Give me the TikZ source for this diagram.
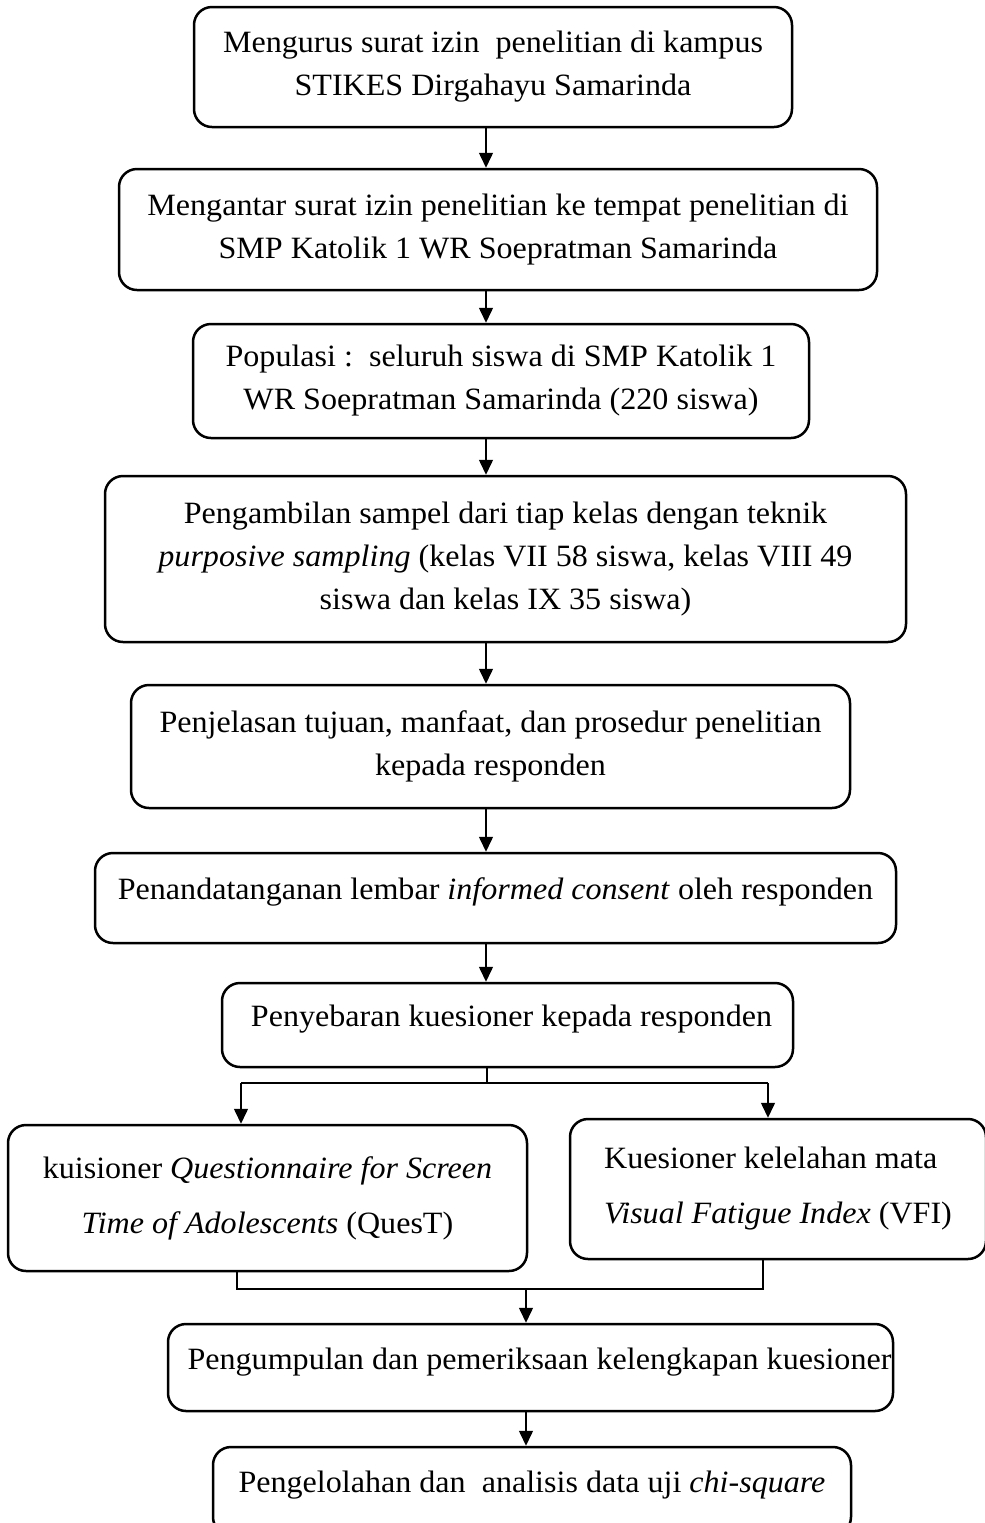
\documentclass[tikz,border=0pt]{standalone}
\usepackage{fontspec}
\setmainfont{Liberation Serif}[FakeStretch=1.035]
\usetikzlibrary{arrows.meta}
\begin{document}
\begin{tikzpicture}[x=0.5pt,y=-0.5pt,
  box/.style={draw, line width=1.25pt, rounded corners=9pt, align=center, inner sep=0pt,
    font=\fontsize{15.5}{21.5}\selectfont},
  widebox/.style={box, font=\fontsize{15.5}{27.5}\selectfont},
  lift/.style={text depth=9pt},
  arr/.style={-{Triangle[length=7.5pt,width=7pt]}, line width=0.75pt},
  conn/.style={line width=0.75pt}]
\useasboundingbox (0,0) rectangle (985,1523);

\node[box, minimum width=299pt, minimum height=60pt] (b1) at (493,67)
  {Mengurus surat izin\ \ penelitian di kampus\\STIKES Dirgahayu Samarinda};
\node[box, minimum width=379pt, minimum height=60.5pt] (b2) at (498,229.5)
  {Mengantar surat izin penelitian ke tempat penelitian di\\SMP Katolik 1 WR Soepratman Samarinda};
\node[box, minimum width=308pt, minimum height=57pt] (b3) at (501,381)
  {Populasi :\ \ seluruh siswa di SMP Katolik 1\\WR Soepratman Samarinda (220 siswa)};
\node[box, minimum width=400.5pt, minimum height=83pt] (b4) at (505.5,559)
  {Pengambilan sampel dari tiap kelas dengan teknik\\\textit{purposive sampling} (kelas VII 58 siswa, kelas VIII 49\\siswa dan kelas IX 35 siswa)};
\node[box, minimum width=359.5pt, minimum height=61.5pt] (b5) at (490.5,746.5)
  {Penjelasan tujuan, manfaat, dan prosedur penelitian\\kepada responden};
\node[box, lift, minimum width=400.5pt, minimum height=45pt] (b6) at (495.5,898)
  {Penandatanganan lembar \textit{informed consent} oleh responden};
\node[box, lift, minimum width=285.5pt, minimum height=42pt] (b7) at (507.5,1025)
  {\ Penyebaran kuesioner kepada responden};
\node[widebox, minimum width=259.5pt, minimum height=73pt] (b8) at (267.5,1198)
  {kuisioner \textit{Questionnaire for Screen}\\\textit{Time of Adolescents} (QuesT)};
\node[widebox, align=left, minimum width=208pt, minimum height=70pt] (b9) at (778,1189)
  {Kuesioner kelelahan mata\\\textit{Visual Fatigue Index} (VFI)};
\node[box, lift, minimum width=362.5pt, minimum height=43.5pt] (b10) at (530.5,1367.5)
  {\hspace*{9pt}Pengumpulan dan pemeriksaan kelengkapan kuesioner};
\node[box, lift, minimum width=319pt, minimum height=44pt] (b11) at (532,1491)
  {Pengelolahan dan\ \ analisis data uji \textit{chi-square}};

\coordinate (spine) at (486,0);
\draw[arr] (b1.south -| spine) -- (b2.north -| spine);
\draw[arr] (b2.south -| spine) -- (b3.north -| spine);
\draw[arr] (b3.south -| spine) -- (b4.north -| spine);
\draw[arr] (b4.south -| spine) -- (b5.north -| spine);
\draw[arr] (b5.south -| spine) -- (b6.north -| spine);
\draw[arr] (b6.south -| spine) -- (b7.north -| spine);

\coordinate (split) at (487,1083);
\coordinate (sl) at (241,1083);
\coordinate (sr) at (768,1083);
\draw[conn] (b7.south -| split) -- (split);
\draw[conn] (sl) -- (sr);
\draw[arr] (sl) -- (sl |- b8.north);
\draw[arr] (sr) -- (sr |- b9.north);

\coordinate (ml) at (237,1289);
\coordinate (mr) at (763,1289);
\coordinate (mc) at (526,1289);
\draw[conn] (ml |- b8.south) -- (ml) -- (mr) -- (mr |- b9.south);
\draw[arr] (mc) -- (mc |- b10.north);
\draw[arr] (mc |- b10.south) -- (mc |- b11.north);
\end{tikzpicture}
\end{document}
